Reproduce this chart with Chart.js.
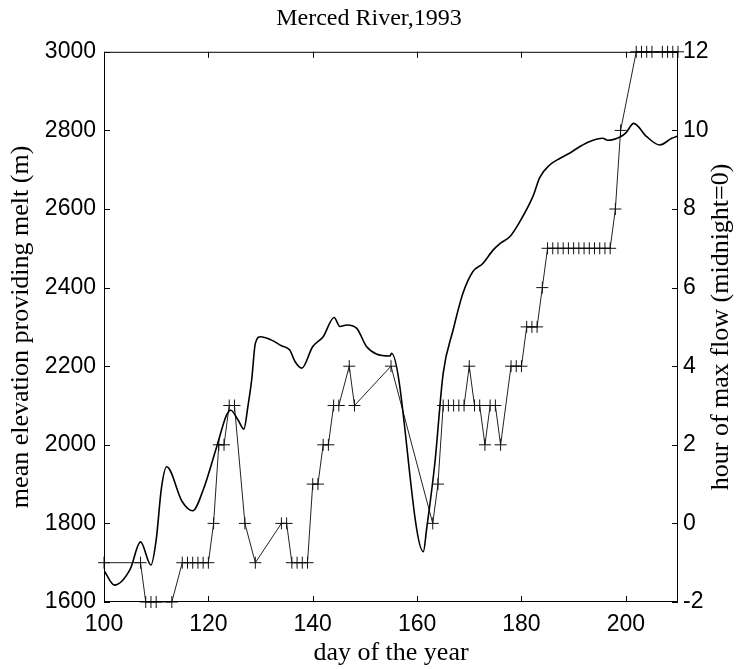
<!DOCTYPE html>
<html>
<head>
<meta charset="utf-8">
<script src="https://cdn.jsdelivr.net/npm/chart.js@4/dist/chart.umd.min.js"></script>
<style>html,body{margin:0;padding:0;background:#fff}</style>
</head>
<body>
<canvas id="myChart" width="738" height="669" style="width:738px;height:669px"></canvas>
<script>
// mean elevation providing melt (m)
var elevDays = [100, 102, 105, 107, 109, 110, 111, 112, 115, 117, 119, 121.6, 123.5, 124.3, 125.7, 126.8, 127.6, 128.3, 129, 130, 132, 134, 135.6, 136.6, 137.9, 140, 142, 144.1, 145.2, 146.5, 148.4, 150.3, 152.2, 154.8, 155.1, 161.2, 161.8, 163.4, 165, 166.9, 168.8, 170.7, 172.5, 174.6, 176, 177.8, 179.7, 182.2, 183.5, 185.4, 187.4, 189.2, 191.2, 193.1, 195.6, 196.5, 199, 200.1, 201.5, 204, 206.5, 208.8, 210];
var elevValues = [1680, 1643, 1683, 1753, 1694, 1758, 1889, 1944, 1855, 1832, 1885, 1995, 2076, 2088, 2063, 2040, 2100, 2165, 2258, 2275, 2267, 2252, 2241, 2212, 2195, 2250, 2275, 2324, 2301, 2305, 2297, 2250, 2231, 2226, 2233, 1728, 1783, 1953, 2182, 2292, 2386, 2441, 2460, 2496, 2513, 2530, 2568, 2632, 2680, 2712, 2729, 2742, 2759, 2772, 2780, 2775, 2784, 2795, 2818, 2784, 2763, 2780, 2786];

// hour of max flow (midnight = 0)
var hourDays = [100, 107, 108, 109, 110, 113, 115, 116, 117, 118, 119, 120, 121, 122, 123, 124, 125, 127, 129, 134, 135, 136, 137, 138, 139, 140, 141, 142, 143, 144, 145, 147, 148, 155, 163, 164, 165, 166, 167, 168, 169, 170, 171, 172, 173, 174, 175, 176, 178, 179, 180, 181, 182, 183, 184, 185, 186, 187, 188, 189, 190, 191, 192, 193, 194, 195, 196, 197, 198, 199, 202, 203, 204, 205, 207, 208, 209, 210];
var hourValues = [-1, -1, -2, -2, -2, -2, -1, -1, -1, -1, -1, -1, 0, 2, 2, 3, 3, 0, -1, 0, 0, -1, -1, -1, -1, 1, 1, 2, 2, 3, 3, 4, 3, 4, 0, 1, 3, 3, 3, 3, 3, 4, 3, 3, 2, 3, 3, 2, 4, 4, 4, 5, 5, 5, 6, 7, 7, 7, 7, 7, 7, 7, 7, 7, 7, 7, 7, 7, 8, 10, 12, 12, 12, 12, 12, 12, 12, 12];

var xTicks = [100, 120, 140, 160, 180, 200];
var rightTitle = 'hour of max flow (midnight=0)';

var elevData = elevDays.map(function (d, i) { return { x: d, y: elevValues[i] }; });
var hourData = hourDays.map(function (d, i) { return { x: d, y: hourValues[i] }; });

// box round the plot, ticks pointing inwards, right label read bottom-up
var framePlugin = {
    id: 'frame',
    afterDraw: function (chart) {
        var c = chart.ctx, a = chart.chartArea;
        c.save();
        c.strokeStyle = '#000';
        c.lineWidth = 1;
        c.strokeRect(a.left + 0.5, a.top + 0.5, a.right - a.left - 1, a.bottom - a.top - 1);
        c.beginPath();
        chart.scales.x.ticks.forEach(function (t) {
            var px = Math.round(chart.scales.x.getPixelForValue(t.value)) + 0.5;
            c.moveTo(px, a.bottom); c.lineTo(px, a.bottom - 6);
            c.moveTo(px, a.top); c.lineTo(px, a.top + 6);
        });
        chart.scales.y.ticks.forEach(function (t) {
            var py = Math.round(chart.scales.y.getPixelForValue(t.value)) + 0.5;
            c.moveTo(a.left, py); c.lineTo(a.left + 6, py);
        });
        chart.scales.y1.ticks.forEach(function (t) {
            var py = Math.round(chart.scales.y1.getPixelForValue(t.value)) + 0.5;
            c.moveTo(a.right, py); c.lineTo(a.right - 6, py);
        });
        c.stroke();

        c.translate(721, (a.top + a.bottom) / 2);
        c.rotate(-Math.PI / 2);
        c.fillStyle = '#000';
        c.font = '26px "Liberation Serif"';
        c.textAlign = 'center';
        c.textBaseline = 'middle';
        c.fillText(rightTitle, 0, 0);
        c.restore();
    }
};

function plainTick(v) { return String(v); }

var ctx = document.getElementById('myChart').getContext('2d');
var myChart = new Chart(ctx, {
    type: 'line',
    data: {
        datasets: [{
            label: 'mean elevation',
            data: elevData,
            yAxisID: 'y',
            borderColor: '#000',
            borderWidth: 1.6,
            pointRadius: 0,
            cubicInterpolationMode: 'monotone'
        }, {
            label: 'hour of max flow',
            data: hourData,
            yAxisID: 'y1',
            borderColor: '#222',
            borderWidth: 1,
            pointStyle: 'cross',
            pointRadius: 6,
            pointBorderWidth: 1,
            pointBorderColor: '#111',
            tension: 0,
            clip: false
        }]
    },
    options: {
        responsive: false,
        animation: false,
        layout: { padding: 0 },
        plugins: {
            legend: { display: false },
            tooltip: { enabled: false },
            title: {
                display: true,
                text: 'Merced River,1993',
                color: '#000',
                font: { family: 'Liberation Serif', size: 24, weight: 'normal' },
                padding: { top: 4, bottom: 19 }
            }
        },
        scales: {
            x: {
                type: 'linear',
                min: 100,
                max: 210,
                afterBuildTicks: function (s) {
                    s.ticks = xTicks.map(function (v) { return { value: v }; });
                },
                afterFit: function (s) { s.height = 67; },
                grid: { display: false, drawTicks: false },
                border: { display: false },
                ticks: { color: '#000', padding: 9, callback: plainTick, font: { family: 'Liberation Sans', size: 23 } },
                title: {
                    display: true,
                    text: 'day of the year',
                    color: '#000',
                    font: { family: 'Liberation Serif', size: 26 },
                    padding: { bottom: 0 }
                }
            },
            y: {
                position: 'left',
                min: 1600,
                max: 3000,
                ticks: { stepSize: 200, color: '#000', padding: 8, callback: plainTick, font: { family: 'Liberation Sans', size: 23 } },
                afterFit: function (s) { s.width = 104; },
                grid: { display: false, drawTicks: false },
                border: { display: false },
                title: {
                    display: true,
                    text: 'mean elevation providing melt (m)',
                    color: '#000',
                    font: { family: 'Liberation Serif', size: 26 },
                    padding: { top: 6 }
                }
            },
            y1: {
                position: 'right',
                min: -2,
                max: 12,
                ticks: { stepSize: 2, color: '#000', padding: 5, callback: plainTick, font: { family: 'Liberation Sans', size: 23 } },
                afterFit: function (s) { s.width = 60; },
                grid: { display: false, drawTicks: false },
                border: { display: false },
                title: { display: false }
            }
        }
    },
    plugins: [framePlugin]
});
</script>
</body>
</html>
